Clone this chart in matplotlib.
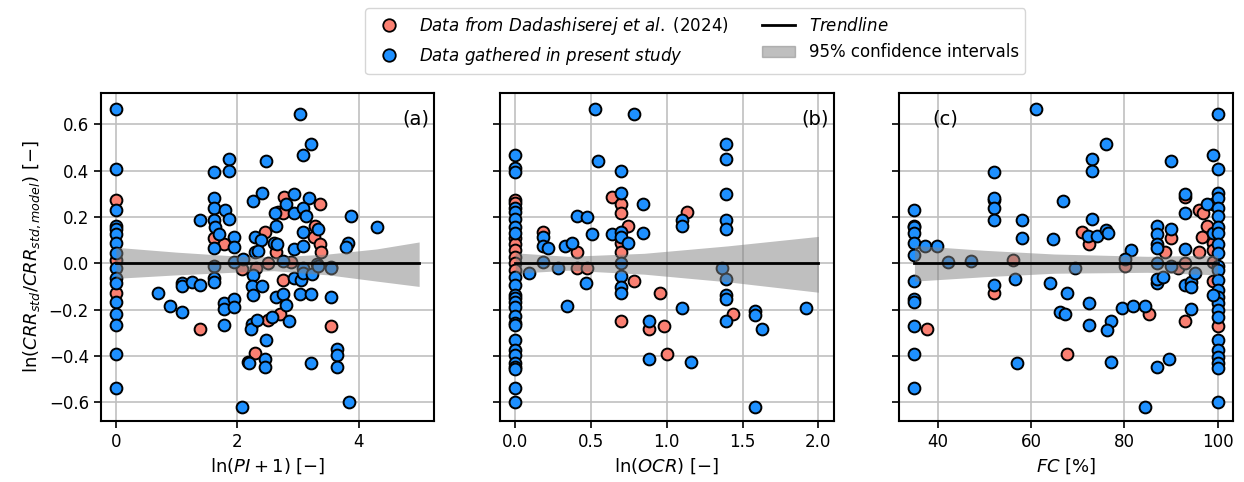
import matplotlib
matplotlib.use("Agg")
import matplotlib.pyplot as plt
from matplotlib.lines import Line2D
from matplotlib.patches import Patch

# ---- panel (a): ln(PI+1) ----
a_lit_x = [0, 0, 0, 1.61, 1.79, 2.45, 2.08, 2.31, 2.50, 2.77, 3.37, 2.68, 2.76, 3.29,
           3.27, 3.37, 3.38, 2.64, 2.89, 1.39, 2.50, 2.30, 2.76, 2.71, 3.55]
a_lit_y = [0.275, 0.013, -0.13, 0.108, 0.082, 0.133, -0.025, -0.02, 0.0, 0.288, 0.258, 0.223,
           0.215, 0.163, 0.112, 0.082, 0.047, 0.047, 0.005, -0.284, -0.247, -0.387, -0.073,
           -0.219, -0.271]
a_new_x = [0] * 16 + [
    1.39, 1.61, 1.87, 1.87, 1.61, 1.61, 1.80, 1.87, 1.61, 1.64, 1.70, 1.62, 1.95, 1.95,
    2.26, 2.41, 2.48, 2.30, 2.40, 2.30, 2.35, 1.62, 1.95, 2.10,
    3.04, 3.22, 3.09, 2.94, 2.81, 3.19, 2.63, 2.94, 3.09, 3.14, 3.87, 4.30, 2.64, 3.34,
    3.09, 2.60, 2.66, 2.94, 3.09, 3.83, 3.80, 2.76, 3.32, 3.09, 3.55,
    1.62, 1.62, 1.09, 1.09, 1.26, 1.39, 0.69, 0.89, 1.09, 1.79, 1.79, 1.79, 1.95, 1.95,
    2.08, 2.26, 2.24, 2.41, 2.26, 2.24, 2.23, 2.48, 2.17, 2.20, 2.45, 2.45, 2.33,
    2.94, 3.06, 2.64, 2.76, 2.81, 3.04, 3.22, 3.55, 2.57, 2.85, 3.22, 3.64, 3.64, 3.64,
    3.84, 3.09, 3.24, 3.34, 3.55]
a_new_y = [0.667, 0.409, 0.232, 0.163, 0.146, 0.125, 0.086, 0.043, -0.022, -0.065, -0.085,
           -0.167, -0.22, -0.267, -0.39, -0.537,
           0.185, 0.396, 0.45, 0.40, 0.28, 0.24, 0.228, 0.19, 0.185, 0.155, 0.128, 0.065,
           0.113, 0.07, 0.27, 0.305, 0.443, 0.112, 0.099, 0.047, 0.055, -0.01, 0.005, 0.02,
           0.645, 0.516, 0.469, 0.30, 0.258, 0.28, 0.215, 0.215, 0.24, 0.202, 0.202, 0.155,
           0.163, 0.15, 0.133, 0.086, 0.082, 0.06, 0.073, 0.086, 0.069, 0.009, -0.004, -0.02,
           -0.017,
           -0.065, -0.08, -0.085, -0.1, -0.08, -0.095, -0.13, -0.185, -0.21, -0.267, -0.172,
           -0.198, -0.155, -0.189, -0.62, -0.05, -0.1, -0.1, -0.135, -0.26, -0.284, -0.33,
           -0.425, -0.43, -0.413, -0.447, -0.245,
           -0.065, -0.073, -0.146, -0.133, -0.18, -0.133, -0.133, -0.146, -0.232, -0.25,
           -0.43, -0.37, -0.396, -0.447, -0.60, -0.04, -0.045, -0.01, -0.022]
a_band_x = [0, 1, 2, 2.6, 3.5, 4.3, 5]
a_band_hi = [0.069, 0.048, 0.031, 0.027, 0.04, 0.062, 0.092]
a_band_lo = [-0.065, -0.05, -0.038, -0.032, -0.05, -0.077, -0.1]
a_trend_x = [0, 5]

# ---- panel (b): ln(OCR) ----
b_lit_x = [0] * 8 + [0.64, 0.70, 0.70, 0.746, 0.70, 0.70, 0.185, 0.409, 0.409, 0.475, 1.135,
                     0.786, 0.70, 0.88, 1.44, 0.957, 0.98, 1.0]
b_lit_y = [0.275, 0.26, 0.108, 0.082, 0.056, 0.026, 0.0, -0.027,
           0.288, 0.258, 0.215, 0.163, 0.086, 0.047, 0.133, 0.047, -0.022, -0.022, 0.223,
           -0.077, -0.25, -0.284, -0.219, -0.129, -0.271, -0.39]
b_new_x = [0] * 25 + [
    0.528, 0.786, 0.548, 0.70, 0.70, 0.845, 0.409, 0.475, 0.508, 0.64, 0.70, 0.70, 0.746,
    0.845, 0.185, 0.185, 0.218, 0.33, 0.376, 0.185, 0.284, 0.70, 0.092,
    1.39, 1.39, 1.39, 1.39, 1.39, 1.10, 1.10, 1.366,
    0.468, 0.343, 0.70, 0.70, 0.70, 0.88, 0.88,
    1.39, 1.39, 1.39, 1.39, 1.10, 1.16, 1.585, 1.585, 1.63, 1.92, 1.585]
b_new_y = [0.469, 0.413, 0.396, 0.237, 0.22, 0.19, 0.155, 0.13, -0.06, -0.095, -0.138, -0.15,
           -0.167, -0.189, -0.228, -0.258, -0.267, -0.331, -0.374, -0.396, -0.43, -0.447,
           -0.456, -0.537, -0.60,
           0.667, 0.645, 0.443, 0.40, 0.305, 0.258, 0.202, 0.198, 0.125, 0.125, 0.133, 0.112,
           0.086, 0.129, 0.112, 0.073, 0.065, 0.073, 0.086, 0.005, -0.022, 0.0, -0.04,
           0.516, 0.45, 0.297, 0.185, 0.15, 0.185, 0.163, -0.02,
           -0.085, -0.185, -0.056, -0.103, -0.129, -0.25, -0.413,
           -0.069, -0.138, -0.155, -0.25, -0.194, -0.426, -0.206, -0.224, -0.284, -0.194, -0.62]
b_band_x = [0, 0.35, 0.85, 1.4, 2.0]
b_band_hi = [0.045, 0.03, 0.043, 0.075, 0.116]
b_band_lo = [-0.043, -0.03, -0.047, -0.08, -0.125]
b_trend_x = [0, 2]

# ---- panel (c): FC ----
c_lit_x = [52.0, 56.1, 71.0, 72.5, 88.8, 90.1, 93.1, 95.9, 96.8, 97.8, 96.6, 95.9, 99.1, 99.1,
           99.1, 80.2, 91.6, 93.1, 99.1, 37.6, 52.0, 67.7, 85.2, 92.9, 99.1, 100]
c_lit_y = [0.275, 0.013, 0.133, 0.082, 0.047, 0.108, 0.288, 0.232, 0.215, 0.163, 0.112, 0.047,
           0.258, 0.086, 0.056, -0.013, -0.02, 0.0, 0.005, -0.284, -0.13, -0.39, -0.219, -0.25,
           -0.077, -0.271]
c_new_x = [35] * 12 + [
    37.2, 39.8, 42.2, 47.1, 52.0, 52.0, 52.0, 52.0, 58.1, 58.1, 64.7, 61.1, 66.8, 76.1, 73.1,
    73.1, 73.1, 72.3, 74.2, 76.1, 76.6, 81.5, 87.1, 87.1, 87.1, 87.1, 90.1, 90.1, 93.1, 93.1,
    93.1, 97.8, 99.1, 99.1] + [100] * 24 + [
    69.5, 80.2, 87.1, 90.0, 52.0, 56.6, 57.0, 64.1, 66.2, 67.7, 67.3, 72.5, 72.5, 77.2, 76.3,
    77.2, 79.4, 81.9, 84.5, 84.5, 87.1, 89.5, 87.1, 87.1, 88.2, 93.1, 94.2, 94.2, 95.1, 94.2,
    99.1]
c_new_y = [0.232, 0.163, 0.155, 0.129, 0.086, 0.035, -0.077, -0.155, -0.167, -0.271, -0.39,
           -0.537,
           0.073, 0.073, 0.005, 0.009, 0.396, 0.28, 0.24, 0.185, 0.185, 0.108, 0.103, 0.667,
           0.27, 0.516, 0.45, 0.40, 0.19, 0.116, 0.116, 0.142, 0.129, 0.056, 0.159, 0.125,
           0.082, 0.065, 0.15, 0.443, 0.30, 0.215, 0.06, 0.258, 0.469, 0.129,
           0.645, 0.409, 0.305, 0.28, 0.24, 0.206, 0.155, 0.129, 0.082, 0.043, -0.01, -0.03,
           -0.073, -0.116, -0.146, -0.172, -0.202, -0.232, -0.331, -0.374, -0.404, -0.43,
           -0.452, -0.60,
           -0.02, 0.02, 0.0, -0.01, -0.095, -0.069, -0.43, -0.085, -0.21, -0.13, -0.22, -0.172,
           -0.267, -0.25, -0.288, -0.426, -0.194, -0.185, -0.185, -0.62, -0.447, -0.413, -0.085,
           -0.07, -0.06, -0.095, -0.08, -0.103, -0.043, -0.198, -0.138]
c_band_x = [35, 50, 65, 85, 100]
c_band_hi = [0.077, 0.056, 0.04, 0.03, 0.035]
c_band_lo = [-0.077, -0.058, -0.043, -0.039, -0.05]
c_trend_x = [35, 100]

red = "#FA8072"
blue = "#1E90FF"

fig, axes = plt.subplots(1, 3, figsize=(12.44, 4.82), dpi=100, sharey=True)
fig.subplots_adjust(left=0.081, right=0.991, top=0.807, bottom=0.127, wspace=0.197)

panels = [
    (a_lit_x, a_lit_y, a_new_x, a_new_y, a_band_x, a_band_lo, a_band_hi, a_trend_x,
     r"$\ln(PI+1)$ [$-$]", "(a)", (0.985, 0.92), "right", (-0.25, 5.25), [0, 2, 4]),
    (b_lit_x, b_lit_y, b_new_x, b_new_y, b_band_x, b_band_lo, b_band_hi, b_trend_x,
     r"$\ln(OCR)$ [$-$]", "(b)", (0.985, 0.92), "right", (-0.1, 2.1), [0.0, 0.5, 1.0, 1.5, 2.0]),
    (c_lit_x, c_lit_y, c_new_x, c_new_y, c_band_x, c_band_lo, c_band_hi, c_trend_x,
     r"$FC$ [%]", "(c)", (0.10, 0.92), "left", (31.75, 103.25), [40, 60, 80, 100]),
]

for ax, p in zip(axes, panels):
    lx, ly, nx, ny, bx, blo, bhi, tx, xlabel, tag, tpos, ha, xlim, xt = p
    ax.scatter(lx, ly, s=72, c=red, edgecolors="black", linewidths=1.4, zorder=3)
    ax.scatter(nx, ny, s=72, c=blue, edgecolors="black", linewidths=1.4, zorder=3)
    ax.fill_between(bx, blo, bhi, color="gray", alpha=0.5, linewidth=0, zorder=4)
    ax.plot(tx, [0, 0], color="black", lw=2, zorder=5)
    ax.set_xlim(xlim)
    ax.set_xticks(xt)
    ax.set_xlabel(xlabel, fontsize=13)
    ax.grid(True, color="#c0c0c0", lw=1.2)
    ax.set_axisbelow(True)
    ax.tick_params(labelsize=12, width=1.2, length=5)
    for sp in ax.spines.values():
        sp.set_linewidth(1.5)
    ax.text(tpos[0], tpos[1], tag, transform=ax.transAxes, fontsize=14, ha=ha, va="center")

axes[0].set_ylim(-0.68, 0.735)
axes[0].set_yticks([-0.6, -0.4, -0.2, 0.0, 0.2, 0.4, 0.6])
axes[0].set_ylabel(r"$\ln(CRR_{std}/CRR_{std,model})$ [$-$]", fontsize=13)

handles = [
    Line2D([], [], marker="o", ls="", markersize=9, markerfacecolor=red,
           markeredgecolor="black", markeredgewidth=1.3),
    Line2D([], [], marker="o", ls="", markersize=9, markerfacecolor=blue,
           markeredgecolor="black", markeredgewidth=1.3),
    Line2D([], [], color="black", lw=2),
    Patch(facecolor="gray", alpha=0.5, edgecolor="gray"),
]
labels = [
    r"$\it{Data\ from\ Dadashiserej\ et\ al.}$ (2024)",
    r"$\it{Data\ gathered\ in\ present\ study}$",
    r"$\it{Trendline}$",
    "95% confidence intervals",
]
fig.legend(handles, labels, loc="upper center", bbox_to_anchor=(0.559, 1.0), ncol=2,
           fontsize=12, columnspacing=2.0)

plt.savefig("out.png")
